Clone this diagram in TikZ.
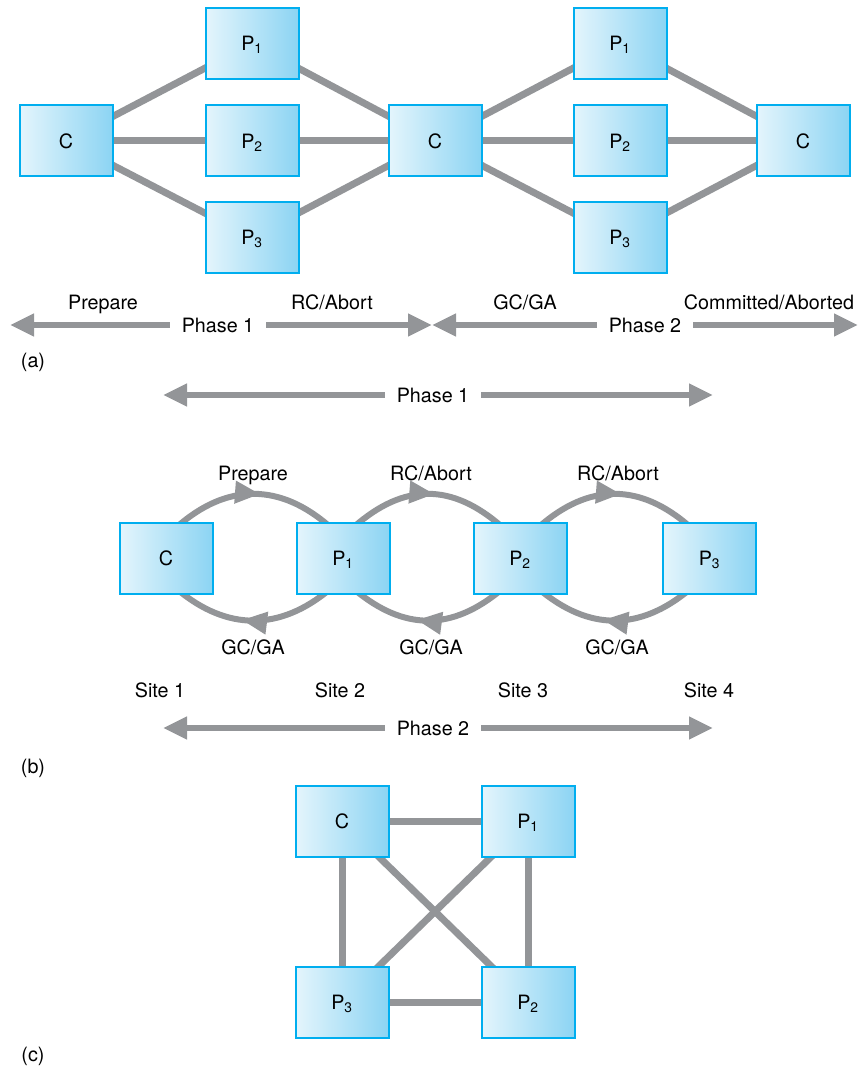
\documentclass[tikz,border=0pt]{standalone}
\usepackage{fontspec}
\setmainfont{TeX Gyre Heros}
\usetikzlibrary{arrows.meta,decorations.markings,backgrounds}
\definecolor{boxline}{RGB}{0,174,239}
\definecolor{boxleft}{RGB}{228,245,252}
\definecolor{boxright}{RGB}{140,212,243}
\definecolor{wire}{RGB}{147,149,152}

\begin{document}
\begin{tikzpicture}[x=0.75pt, y=-0.75pt, every node/.style={font=\fontsize{14.8}{17}\selectfont}, >={Triangle[length=18pt, width=16pt]},
	lbl/.style={text height=10.6pt, text depth=0pt, inner sep=0pt},
	site/.style={lbl, draw=boxline, line width=1.5pt, left color=boxleft, right color=boxright, minimum width=69.75pt, minimum height=53.25pt},
	link/.style={color=wire, line width=5.25pt},
	phasearrow/.style={color=wire, line width=4.5pt, ->},
	phasetext/.style={lbl, inner xsep=9pt},
	hop/.style={color=wire, line width=4.5pt, postaction={decorate}, decoration={markings, mark=at position #1 with {\arrow{Triangle[length=19pt, width=16pt]}}}}
]
	\useasboundingbox (0,0) rectangle (860,1073);

	\node[site] (Ca) at (66,141) {C};
	\node[site] (P1a) at (252,43.5) {P\textsubscript{1}};
	\node[site] (P2a) at (252,141) {P\textsubscript{2}};
	\node[site] (P3a) at (252,237.5) {P\textsubscript{3}};
	\node[site] (Cb) at (435,141) {C};
	\node[site] (P1b) at (620,43.5) {P\textsubscript{1}};
	\node[site] (P2b) at (620,141) {P\textsubscript{2}};
	\node[site] (P3b) at (620,237.5) {P\textsubscript{3}};
	\node[site] (Cc) at (803,141) {C};
	\begin{scope}[on background layer]
		\draw[link] (Ca.center) -- (P1a.center) -- (Cb.center) -- (P1b.center) -- (Cc.center);
		\draw[link] (Ca.center) -- (P2a.center) -- (Cb.center) -- (P2b.center) -- (Cc.center);
		\draw[link] (Ca.center) -- (P3a.center) -- (Cb.center) -- (P3b.center) -- (Cc.center);
	\end{scope}

	\node[lbl] (prepA) at (103,302) {Prepare};
	\node[lbl] (rcA) at (332,302) {RC/Abort};
	\node[lbl] (gcA) at (525,302) {GC/GA};
	\node[lbl] (doneA) at (769,302) {Committed/Aborted};
	\node[phasetext] (ph1) at (218,325) {Phase 1};
	\node[phasetext] (ph2) at (645,325) {Phase 2};
	\coordinate (ph1L) at (10,325);
	\coordinate (ph1R) at (432,325);
	\coordinate (ph2L) at (432,325);
	\coordinate (ph2R) at (858,325);
	\draw[phasearrow] (ph1) -- (ph1L);
	\draw[phasearrow] (ph1) -- (ph1R);
	\draw[phasearrow] (ph2) -- (ph2L);
	\draw[phasearrow] (ph2) -- (ph2R);
	\node[lbl] (capA) at (33,360) {(a)};

	\node[phasetext] (ph1lin) at (433,395) {Phase 1};
	\coordinate (ph1linL) at (163,395);
	\coordinate (ph1linR) at (713,395);
	\draw[phasearrow] (ph1lin) -- (ph1linL);
	\draw[phasearrow] (ph1lin) -- (ph1linR);

	\node[site] (Cl) at (166,558) {C};
	\node[site] (P1l) at (343,558) {P\textsubscript{1}};
	\node[site] (P2l) at (520,558) {P\textsubscript{2}};
	\node[site] (P3l) at (709.5,558) {P\textsubscript{3}};
	\begin{scope}[on background layer]
		\draw[hop=0.54] ([xshift=8.25pt, yshift=-4pt]Cl.north) .. controls +(50,-44) and +(-50,-44) .. ([xshift=-9.75pt, yshift=-4pt]P1l.north);
		\draw[hop=0.54] ([xshift=8.25pt, yshift=-4pt]P1l.north) .. controls +(50,-44) and +(-50,-44) .. ([xshift=-13.5pt, yshift=-4pt]P2l.north);
		\draw[hop=0.54] ([xshift=14.25pt, yshift=-4pt]P2l.north) .. controls +(50,-44) and +(-50,-44) .. ([xshift=-14.6pt, yshift=-4pt]P3l.north);
		\draw[hop=0.57] ([xshift=-9.75pt, yshift=4pt]P1l.south) .. controls +(-50,42) and +(50,42) .. ([xshift=8.25pt, yshift=4pt]Cl.south);
		\draw[hop=0.57] ([xshift=-13.5pt, yshift=4pt]P2l.south) .. controls +(-50,42) and +(50,42) .. ([xshift=8.25pt, yshift=4pt]P1l.south);
		\draw[hop=0.57] ([xshift=-14.6pt, yshift=4pt]P3l.south) .. controls +(-50,42) and +(50,42) .. ([xshift=14.25pt, yshift=4pt]P2l.south);
	\end{scope}
	\node[lbl] (prepB) at (253,473) {Prepare};
	\node[lbl] (rcB1) at (431,473) {RC/Abort};
	\node[lbl] (rcB2) at (618,473) {RC/Abort};
	\node[lbl] (gcB1) at (253,647) {GC/GA};
	\node[lbl] (gcB2) at (431,647) {GC/GA};
	\node[lbl] (gcB3) at (617,647) {GC/GA};
	\node[lbl] (site1) at (160,690) {Site 1};
	\node[lbl] (site2) at (340,690) {Site 2};
	\node[lbl] (site3) at (523,690) {Site 3};
	\node[lbl] (site4) at (709,690) {Site 4};
	\node[phasetext] (ph2lin) at (433,728) {Phase 2};
	\coordinate (ph2linL) at (163,728);
	\coordinate (ph2linR) at (713,728);
	\draw[phasearrow] (ph2lin) -- (ph2linL);
	\draw[phasearrow] (ph2lin) -- (ph2linR);
	\node[lbl] (capB) at (33,766) {(b)};

	\node[site] (Cd) at (342,821) {C};
	\node[site] (P1d) at (528,821) {P\textsubscript{1}};
	\node[site] (P2d) at (528,1002) {P\textsubscript{2}};
	\node[site] (P3d) at (342,1002) {P\textsubscript{3}};
	\begin{scope}[on background layer]
		\draw[link] (Cd.center) -- (P1d.center) -- (P2d.center) -- (P3d.center) -- cycle;
		\draw[link] (Cd.center) -- (P2d.center);
		\draw[link] (P1d.center) -- (P3d.center);
	\end{scope}
	\node[lbl] (capC) at (33,1054) {(c)};
\end{tikzpicture}
\end{document}
